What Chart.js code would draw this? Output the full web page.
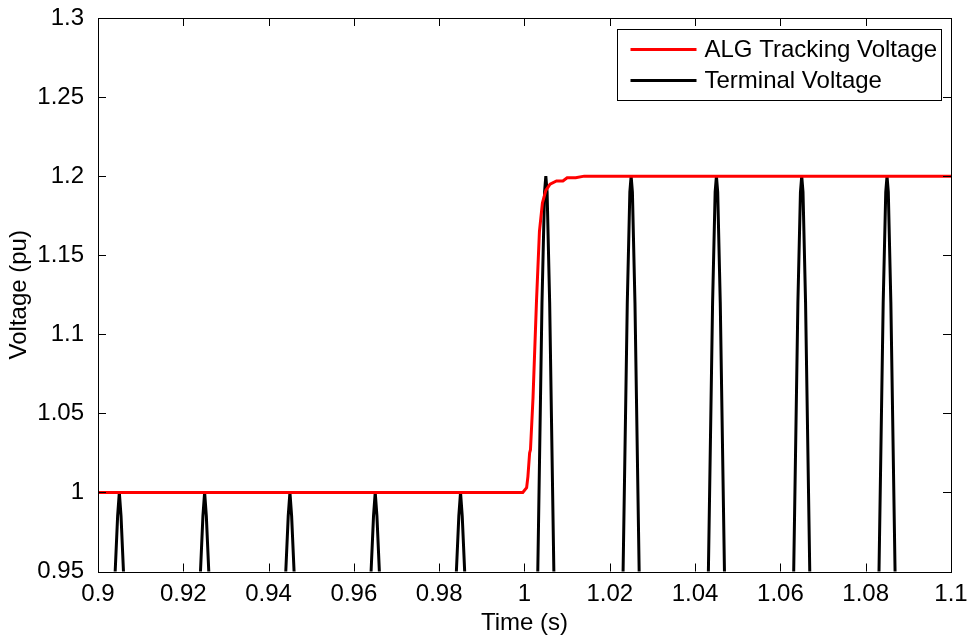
<!DOCTYPE html>
<html>
<head>
<meta charset="utf-8">
<script src="https://cdn.jsdelivr.net/npm/chart.js@4/dist/chart.umd.min.js"></script>
<style>
  body { margin: 0; background: #fff; }
  #wrap { width: 967px; height: 639px; }
</style>
</head>
<body>
<div id="wrap"><canvas id="myChart" width="967" height="639"></canvas></div>
<script>
// ALG tracking voltage (red)
const algTime = [0.9, 0.9996, 1.0005, 1.0008, 1.0012, 1.0014, 1.0020, 1.0028, 1.0035, 1.0042, 1.0050, 1.0060, 1.0075, 1.0090, 1.0100, 1.0120, 1.0140, 1.1];
const algVolt = [1.0, 1.0, 1.003, 1.010, 1.025, 1.027, 1.060, 1.120, 1.165, 1.183, 1.191, 1.195, 1.197, 1.197, 1.199, 1.199, 1.2, 1.2];

// terminal voltage (black): only the tops of the waveform are inside the axes,
// null separates one peak from the next
const termTime = [
  0.9037, 0.9046, 0.905, 0.9054, 0.9063, 0.915,
  0.9237, 0.9246, 0.925, 0.9254, 0.9263, 0.935,
  0.9437, 0.9446, 0.945, 0.9454, 0.9463, 0.955,
  0.9637, 0.9646, 0.965, 0.9654, 0.9663, 0.975,
  0.9837, 0.9846, 0.985, 0.9854, 0.9863, 0.995,
  1.0030, 1.0041, 1.0047, 1.005, 1.0053, 1.0059, 1.0070, 1.015,
  1.0230, 1.0241, 1.0247, 1.025, 1.0253, 1.0259, 1.0270, 1.035,
  1.0430, 1.0441, 1.0447, 1.045, 1.0453, 1.0459, 1.0470, 1.055,
  1.0630, 1.0641, 1.0647, 1.065, 1.0653, 1.0659, 1.0670, 1.075,
  1.0830, 1.0841, 1.0847, 1.085, 1.0853, 1.0859, 1.0870
];
const termVolt = [
  0.93, 0.985, 1.0, 0.985, 0.93, null,
  0.93, 0.985, 1.0, 0.985, 0.93, null,
  0.93, 0.985, 1.0, 0.985, 0.93, null,
  0.93, 0.985, 1.0, 0.985, 0.93, null,
  0.93, 0.985, 1.0, 0.985, 0.93, null,
  0.93, 1.12, 1.19, 1.2, 1.19, 1.12, 0.93, null,
  0.93, 1.12, 1.19, 1.2, 1.19, 1.12, 0.93, null,
  0.93, 1.12, 1.19, 1.2, 1.19, 1.12, 0.93, null,
  0.93, 1.12, 1.19, 1.2, 1.19, 1.12, 0.93, null,
  0.93, 1.12, 1.19, 1.2, 1.19, 1.12, 0.93
];

const seriesNames = ["ALG Tracking Voltage", "Terminal Voltage"];
const xTicksRange = [0.9, 1.1, 0.02];
const yTicksRange = [0.95, 1.3, 0.05];

const FONT = '"Liberation Sans", Arial, Helvetica, sans-serif';

const toPoints = (xs, ys) => xs.map((t, i) => ({ x: t, y: ys[i] }));
const fmt = v => String(+Number(v).toFixed(4));

// MATLAB-like box, inward ticks on all four sides, and legend
const matlabBox = {
    id: "matlabBox",
    afterDatasetsDraw(chart) {
        const { ctx, chartArea: a, scales } = chart;
        const tl = 8;
        ctx.save();
        ctx.strokeStyle = "#000";
        ctx.lineWidth = 1;
        ctx.beginPath();
        scales.x.ticks.forEach(t => {
            const px = Math.round(scales.x.getPixelForValue(t.value)) + 0.5;
            ctx.moveTo(px, a.bottom); ctx.lineTo(px, a.bottom - tl);
            ctx.moveTo(px, a.top); ctx.lineTo(px, a.top + tl);
        });
        scales.y.ticks.forEach(t => {
            const py = Math.round(scales.y.getPixelForValue(t.value)) + 0.5;
            ctx.moveTo(a.left, py); ctx.lineTo(a.left + tl, py);
            ctx.moveTo(a.right, py); ctx.lineTo(a.right - tl, py);
        });
        ctx.stroke();
        ctx.strokeRect(Math.round(a.left) + 0.5, Math.round(a.top) + 0.5,
            Math.round(a.right - a.left), Math.round(a.bottom - a.top));

        // legend
        const bx = Math.round(a.right) - 334 + 0.5, by = Math.round(a.top) + 11.5;
        ctx.fillStyle = "#fff";
        ctx.fillRect(bx, by, 324, 71);
        ctx.strokeRect(bx, by, 324, 71);
        ctx.font = "24px " + FONT;
        ctx.textBaseline = "middle";
        chart.data.datasets.forEach((ds, i) => {
            const ly = by + 20 + i * 31;
            ctx.strokeStyle = ds.borderColor;
            ctx.lineWidth = 3;
            ctx.beginPath();
            ctx.moveTo(bx + 13, ly); ctx.lineTo(bx + 79, ly);
            ctx.stroke();
            ctx.fillStyle = "#000";
            ctx.fillText(ds.label, bx + 87, ly + 1);
        });
        ctx.restore();
    }
};

new Chart(document.getElementById("myChart").getContext("2d"), {
    type: "line",
    data: {
        datasets: [
            {
                label: seriesNames[0],
                data: toPoints(algTime, algVolt),
                borderColor: "rgb(255, 0, 0)",
                borderWidth: 3,
                pointRadius: 0,
                tension: 0,
                clip: 0,
            },
            {
                label: seriesNames[1],
                data: toPoints(termTime, termVolt),
                borderColor: "rgb(0, 0, 0)",
                borderWidth: 3,
                pointRadius: 0,
                tension: 0,
                spanGaps: false,
                clip: 0,
            },
        ],
    },
    options: {
        responsive: false,
        animation: false,
        layout: { padding: { top: 18, right: 16, bottom: 0, left: 0 } },
        plugins: { legend: { display: false }, tooltip: { enabled: false } },
        scales: {
            x: {
                type: "linear",
                min: xTicksRange[0],
                max: xTicksRange[1],
                afterFit: s => {
                    s.height = 67.5;
                    s.paddingLeft = 0;
                    s.paddingRight = 0;
                },
                grid: { display: false, drawTicks: false },
                border: { display: false },
                ticks: {
                    stepSize: xTicksRange[2],
                    padding: 8,
                    maxRotation: 0,
                    autoSkip: false,
                    color: "#000",
                    font: { family: FONT, size: 24 },
                    callback: fmt,
                },
                title: {
                    display: true,
                    text: "Time (s)",
                    color: "#000",
                    font: { family: FONT, size: 24 },
                    padding: { top: 0, bottom: 1 },
                },
            },
            y: {
                type: "linear",
                min: yTicksRange[0],
                max: yTicksRange[1],
                afterFit: s => {
                    s.width = 98;
                    s.paddingTop = 0;
                    s.paddingBottom = 0;
                },
                grid: { display: false, drawTicks: false },
                border: { display: false },
                ticks: {
                    stepSize: yTicksRange[2],
                    padding: 14,
                    autoSkip: false,
                    color: "#000",
                    font: { family: FONT, size: 24 },
                    callback: fmt,
                },
                title: {
                    display: true,
                    text: "Voltage (pu)",
                    color: "#000",
                    font: { family: FONT, size: 24 },
                    padding: { top: 5, bottom: 0 },
                },
            },
        },
    },
    plugins: [matlabBox],
});
</script>
</body>
</html>
